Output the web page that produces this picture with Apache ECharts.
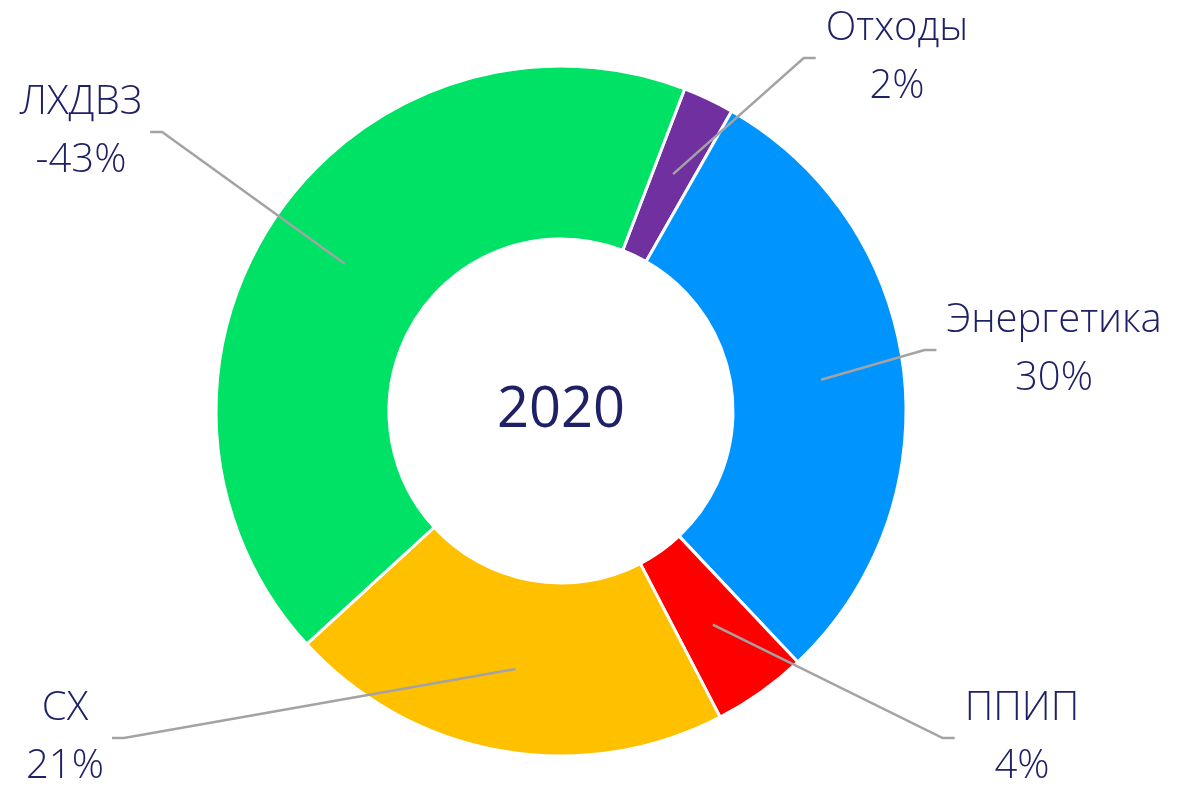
<!DOCTYPE html>
<html>
<head>
<meta charset="utf-8">
<script src="https://cdn.jsdelivr.net/npm/echarts@6/dist/echarts.min.js"></script>
<style>
  html, body { margin: 0; padding: 0; background: #fff; }
  #ChartDom { width: 1179px; height: 786px; }
</style>
</head>
<body>
<div id="ChartDom"></div>
<script>
const categories = ["Отходы", "Энергетика", "ППИП", "СХ", "ЛХДВЗ"]
const values = [2.4, 29.7, 4.4, 20.8, 42.6]
const pctLabels = ["2%", "30%", "4%", "21%", "-43%"]
const colors = ["#7030a0", "#0094ff", "#ff0000", "#ffc000", "#00e266"]

// label block centres (px) and which side the leader comes from
const labelPos = [
  { x: 897, y: 58, side: "right" },
  { x: 1054, y: 350, side: "right" },
  { x: 1022, y: 738, side: "right" },
  { x: 65, y: 738, side: "left" },
  { x: 81, y: 132, side: "left" },
]

const center = [561, 411]
const textColor = "#1f2166"
const font = "'Open Sans', 'Noto Sans', sans-serif"

const chartDom = document.getElementById("ChartDom")
const myChart = echarts.init(chartDom)

const pieData = categories.map((name, i) => ({
  name: name,
  value: values[i],
  itemStyle: { color: colors[i] },
}))

let option = {
  animation: false,
  graphic: [
    {
      type: "text",
      x: center[0],
      y: center[1],
      style: {
        text: "2020",
        align: "center",
        verticalAlign: "middle",
        textAlign: "center",
        textVerticalAlign: "middle",
        fontSize: 56,
        fontFamily: font,
        fill: textColor,
      },
    },
  ],
  series: [
    {
      type: "pie",
      z: 2,
      center: center,
      radius: [172, 345],
      startAngle: 69,
      clockwise: true,
      avoidLabelOverlap: false,
      silent: true,
      label: { show: false },
      labelLine: { show: false },
      itemStyle: {
        borderColor: "#ffffff",
        borderWidth: 3,
      },
      data: pieData,
    },
    {
      // invisible ring ending mid-donut, only used to anchor the leader lines
      type: "pie",
      z: 5,
      center: center,
      radius: [0, 262],
      startAngle: 69,
      clockwise: true,
      avoidLabelOverlap: false,
      silent: true,
      itemStyle: { color: "rgba(0,0,0,0)" },
      label: {
        show: true,
        position: "outside",
        formatter: (p) => p.name + "\n" + pctLabels[p.dataIndex],
        color: textColor,
        fontSize: 40,
        lineHeight: 58,
        fontFamily: font,
        fontWeight: 300,
        align: "center",
      },
      labelLine: {
        show: true,
        length: 20,
        length2: 10,
        lineStyle: {
          color: "#a3a3a3",
          width: 2.5,
        },
      },
      labelLayout: (params) => {
        const pos = labelPos[params.dataIndex]
        const w = params.labelRect.width
        const start = params.labelLinePoints ? params.labelLinePoints[0] : center
        let endX
        let elbowX
        if (pos.side === "right") {
          endX = pos.x - w / 2 - 10
          elbowX = endX - 12
        } else {
          endX = pos.x + w / 2 + 8
          elbowX = endX + 12
        }
        return {
          x: pos.x,
          y: pos.y,
          align: "center",
          verticalAlign: "middle",
          labelLinePoints: [start, [elbowX, pos.y], [endX, pos.y]],
        }
      },
      data: categories.map((name, i) => ({ name: name, value: values[i] })),
    },
  ],
}

myChart.setOption(option)

window.addEventListener(
  "resize",
  () => {
    myChart.resize()
  },
  { passive: true }
)
</script>
</body>
</html>
